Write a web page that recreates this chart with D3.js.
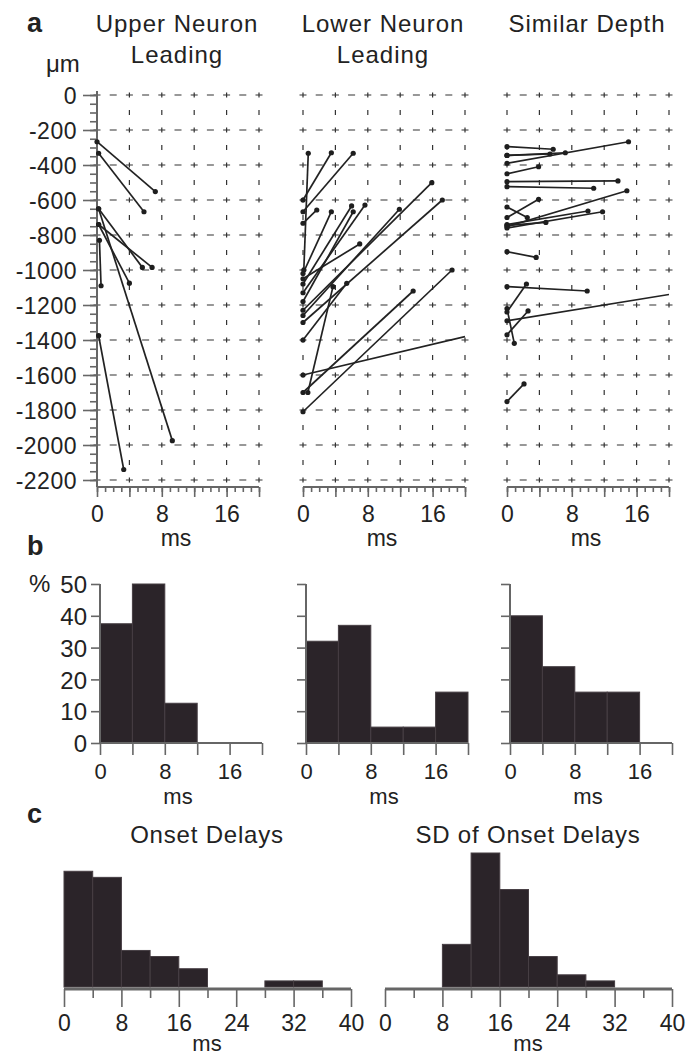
<!DOCTYPE html>
<html lang="en">
<head>
<meta charset="utf-8">
<script src="https://d3js.org/d3.v7.min.js"></script>
<style>
  body { margin: 0; background: #fff; }
  svg text { font-family: "Liberation Sans", Arial, sans-serif; fill: #222; }
</style>
</head>
<body>
<script>
// ---- data ----
const panelTitles = [["Upper Neuron", "Leading"], ["Lower Neuron", "Leading"], ["Similar Depth"]];
const depthTicks = [0, -200, -400, -600, -800, -1000, -1200, -1400, -1600, -1800, -2000, -2200];
const msLabels = [0, 8, 16];
const msGrid = [0, 4, 8, 12, 16, 20];

// each pair: [ms start, depth start, ms end, depth end]
const upperLines = [
  [0, -267, 7.2, -552], [0.2, -333, 5.8, -667],
  [0.2, -650, 5.6, -985], [0.2, -650, 9.3, -1975],
  [0.2, -740, 6.8, -985], [0.2, -740, 4.0, -1075],
  [0.3, -830, 0.5, -1090], [0.2, -1375, 3.3, -2140]
];
const lowerLines = [
  [0.1, -1000, 0.65, -333], [0, -600, 3.5, -330], [0, -667, 6.2, -333],
  [0, -733, 1.7, -657], [0, -1020, 3.5, -667], [0, -1080, 6.0, -634],
  [0, -1130, 7.65, -629], [0, -1180, 6.2, -667], [0, -1050, 7.0, -851],
  [0, -1260, 11.9, -653], [0, -1230, 15.9, -501], [0, -1300, 17.2, -600],
  [0, -1400, 5.4, -1076], [0.6, -1700, 3.7, -1095], [0, -1700, 13.6, -1120],
  [0, -1810, 18.4, -1000], [0, -1600, 20, -1381]
];
const similarLines = [
  [0, -295, 5.7, -310], [0, -345, 5.3, -337], [0, -345, 7.2, -330],
  [0, -390, 15.0, -267], [0, -450, 3.9, -410], [0, -495, 13.7, -491],
  [0, -524, 10.7, -533], [0, -640, 2.5, -700], [0, -700, 3.9, -596],
  [0, -740, 10.0, -663], [0, -760, 11.8, -667], [0, -745, 4.8, -728],
  [0, -752, 14.8, -547], [0, -895, 3.6, -928], [0, -1095, 9.9, -1120],
  [0, -1240, 2.4, -1080], [0, -1290, 20, -1140], [0, -1370, 2.6, -1234],
  [0, -1220, 0.9, -1419], [0, -1752, 2.1, -1651]
];

const pctTicks = [0, 10, 20, 30, 40, 50];
const upperPct = [37.5, 50, 12.5, 0, 0];     // 4 ms bins, 0-20 ms
const lowerPct = [32, 37, 5, 5, 16];
const similarPct = [40, 24, 16, 16, 0];

const cTitles = ["Onset Delays", "SD of Onset Delays"];
const cTicks = [0, 8, 16, 24, 32, 40];
const onsetCounts = [19, 18, 6, 5, 3, 0, 0, 1, 1, 0];   // 4 ms bins, 0-40 ms
const sdCounts = [0, 0, 7, 22, 16, 5, 2, 1, 0, 0];

// ---- layout ----
const W = 689, H = 1057;
const aX = [97, 303, 507], bX = [100, 306, 510], colW = 162;
const binW = 4;
const barFill = "#2b2429", axisCol = "#666";

const svg = d3.select("body").append("svg").attr("width", W).attr("height", H);

function letter(t, x, y) {
  svg.append("text").attr("x", x).attr("y", y).text(t)
    .style("font-weight", "bold").style("font-size", "27px");
}
function styleAxis(g, size) {
  g.select(".domain").remove();
  g.selectAll("line").attr("stroke", axisCol).attr("stroke-width", 1.6);
  g.selectAll("text").style("font-size", size + "px").attr("fill", "#222")
    .style("font-family", "'Liberation Sans', Arial, sans-serif");
}

// ================= panel a =================
letter("a", 27, 32);
svg.append("text").attr("x", 46).attr("y", 72).text("μm").style("font-size", "24px");

const depthY = d3.scaleLinear().domain([0, -2200]).range([95, 480]);
const allLines = [upperLines, lowerLines, similarLines];

allLines.forEach((lines, i) => {
  const x0 = aX[i];
  const x = d3.scaleLinear().domain([0, 20]).range([x0, x0 + colW]);
  const g = svg.append("g");

  // titles
  panelTitles[i].forEach((t, k) => {
    g.append("text").attr("x", x0 + 80).attr("y", 32 + k * 31)
      .attr("text-anchor", "middle").style("font-size", "24px")
      .style("letter-spacing", "1px").text(t);
  });

  // dashed grid
  g.selectAll(".hg").data(depthTicks).join("line")
    .attr("x1", x(0) - 3.5).attr("x2", x(20) + 3.5)
    .attr("y1", d => depthY(d)).attr("y2", d => depthY(d))
    .attr("stroke", "#333").attr("stroke-width", 1.2)
    .attr("stroke-dasharray", "7,9.2");
  g.selectAll(".vg").data(i === 0 ? msGrid.slice(1) : msGrid).join("line")
    .attr("x1", d => x(d)).attr("x2", d => x(d))
    .attr("y1", depthY(0) - 2.5).attr("y2", depthY(-2200) + 2.5)
    .attr("stroke", "#333").attr("stroke-width", 1.2)
    .attr("stroke-dasharray", "5,12.5");

  // x axis
  const axY = 487;
  const minor = g.append("g").attr("transform", `translate(0,${axY})`)
    .call(d3.axisBottom(x).tickValues(d3.range(0, 21, 1)).tickSize(5).tickFormat(""));
  styleAxis(minor, 23);
  const major = g.append("g").attr("transform", `translate(0,${axY})`)
    .call(d3.axisBottom(x).tickValues(msGrid).tickSize(10)
      .tickFormat(d => msLabels.includes(d) ? d : ""));
  styleAxis(major, 23);
  major.selectAll("text").attr("y", 35).attr("dy", 0);
  g.append("line").attr("x1", x(0)).attr("x2", x(20)).attr("y1", axY).attr("y2", axY)
    .attr("stroke", axisCol).attr("stroke-width", 2);
  g.append("text").attr("x", x0 + 79).attr("y", 546).attr("text-anchor", "middle")
    .style("font-size", "23px").text("ms");

  // y axis only on first panel
  if (i === 0) {
    const ym = g.append("g").attr("transform", `translate(${x0},0)`)
      .call(d3.axisLeft(depthY).tickValues(d3.range(0, -2201, -50)).tickSize(7).tickFormat(""));
    styleAxis(ym, 24);
    const yM = g.append("g").attr("transform", `translate(${x0},0)`)
      .call(d3.axisLeft(depthY).tickValues(depthTicks).tickSize(14).tickPadding(6)
        .tickFormat(d => String(d)));
    styleAxis(yM, 23);
    yM.selectAll("text").attr("dy", "0.36em").style("letter-spacing", "0.5px");
    g.append("line").attr("x1", x0).attr("x2", x0).attr("y1", 91).attr("y2", axY)
      .attr("stroke", axisCol).attr("stroke-width", 2);
  }

  // connecting lines and dots
  const clipId = "clipA" + i;
  svg.append("clipPath").attr("id", clipId).append("rect")
    .attr("x", x(0) - 4).attr("y", 80).attr("width", colW + 4).attr("height", 420);
  const lg = g.append("g").attr("clip-path", `url(#${clipId})`);
  lg.selectAll("line").data(lines).join("line")
    .attr("x1", d => x(d[0])).attr("y1", d => depthY(d[1]))
    .attr("x2", d => x(d[2])).attr("y2", d => depthY(d[3]))
    .attr("stroke", "#222").attr("stroke-width", 1.7);
  const pts = [];
  lines.forEach(d => {
    pts.push([d[0], d[1]]);
    if (d[2] < 20) pts.push([d[2], d[3]]);
  });
  lg.selectAll("circle").data(pts).join("circle")
    .attr("cx", d => x(d[0])).attr("cy", d => depthY(d[1])).attr("r", 2.6)
    .attr("fill", "#1e1e1e");
});

// ================= panel b =================
letter("b", 27, 555);
svg.append("text").attr("x", 29).attr("y", 592).text("%").style("font-size", "24px");
const pctY = d3.scaleLinear().domain([0, 50]).range([743, 584]);
[upperPct, lowerPct, similarPct].forEach((vals, i) => {
  const x0 = bX[i];
  const x = d3.scaleLinear().domain([0, 20]).range([x0, x0 + colW]);
  const g = svg.append("g");

  g.selectAll("rect").data(vals).join("rect")
    .attr("x", (d, k) => x(k * binW)).attr("width", x(binW) - x(0))
    .attr("y", d => pctY(d)).attr("height", d => pctY(0) - pctY(d))
    .attr("fill", barFill).attr("stroke", "#463e43").attr("stroke-width", 1)
    .style("display", d => d > 0 ? null : "none");

  const ya = g.append("g").attr("transform", `translate(${x0},0)`)
    .call(d3.axisLeft(pctY).tickValues(pctTicks).tickSize(9).tickPadding(4)
      .tickFormat(d => i === 0 ? d : ""));
  styleAxis(ya, 24);
  ya.selectAll("text").attr("dy", "0.36em");
  g.append("line").attr("x1", x0).attr("x2", x0).attr("y1", 584).attr("y2", 743)
    .attr("stroke", axisCol).attr("stroke-width", 2);

  const xa = g.append("g").attr("transform", "translate(0,743)")
    .call(d3.axisBottom(x).tickValues(msGrid).tickSize(12)
      .tickFormat(d => msLabels.includes(d) ? d : ""));
  styleAxis(xa, 22);
  xa.selectAll("text").attr("y", 36).attr("dy", 0);
  g.append("line").attr("x1", x(0)).attr("x2", x(20)).attr("y1", 743).attr("y2", 743)
    .attr("stroke", axisCol).attr("stroke-width", 2);
  g.append("text").attr("x", x0 + 78).attr("y", 804).attr("text-anchor", "middle")
    .style("font-size", "22px").text("ms");
});

// ================= panel c =================
letter("c", 27, 823);
const cX = [64, 385], cW = 287;
const countY = d3.scaleLinear().domain([0, 22]).range([987, 853]);
[onsetCounts, sdCounts].forEach((vals, i) => {
  const x0 = cX[i];
  const x = d3.scaleLinear().domain([0, 40]).range([x0, x0 + cW]);
  const g = svg.append("g");

  g.append("text").attr("x", x0 + 143).attr("y", 843).attr("text-anchor", "middle")
    .style("font-size", "24px").style("letter-spacing", "0.8px").text(cTitles[i]);

  g.selectAll("rect").data(vals).join("rect")
    .attr("x", (d, k) => x(k * binW)).attr("width", x(binW) - x(0))
    .attr("y", d => countY(d)).attr("height", d => countY(0) - countY(d))
    .attr("fill", barFill).attr("stroke", "#463e43").attr("stroke-width", 1)
    .style("display", d => d > 0 ? null : "none");

  const minor = g.append("g").attr("transform", "translate(0,989)")
    .call(d3.axisBottom(x).tickValues(d3.range(4, 40, 8)).tickSize(9).tickFormat(""));
  styleAxis(minor, 23);
  const major = g.append("g").attr("transform", "translate(0,989)")
    .call(d3.axisBottom(x).tickValues(cTicks).tickSize(18));
  styleAxis(major, 23);
  major.selectAll("text").attr("y", 42).attr("dy", 0);
  g.append("line").attr("x1", x(0)).attr("x2", x(40)).attr("y1", 989).attr("y2", 989)
    .attr("stroke", axisCol).attr("stroke-width", 3);
  g.append("text").attr("x", x0 + 143).attr("y", 1051).attr("text-anchor", "middle")
    .style("font-size", "22px").text("ms");
});
</script>
</body>
</html>
